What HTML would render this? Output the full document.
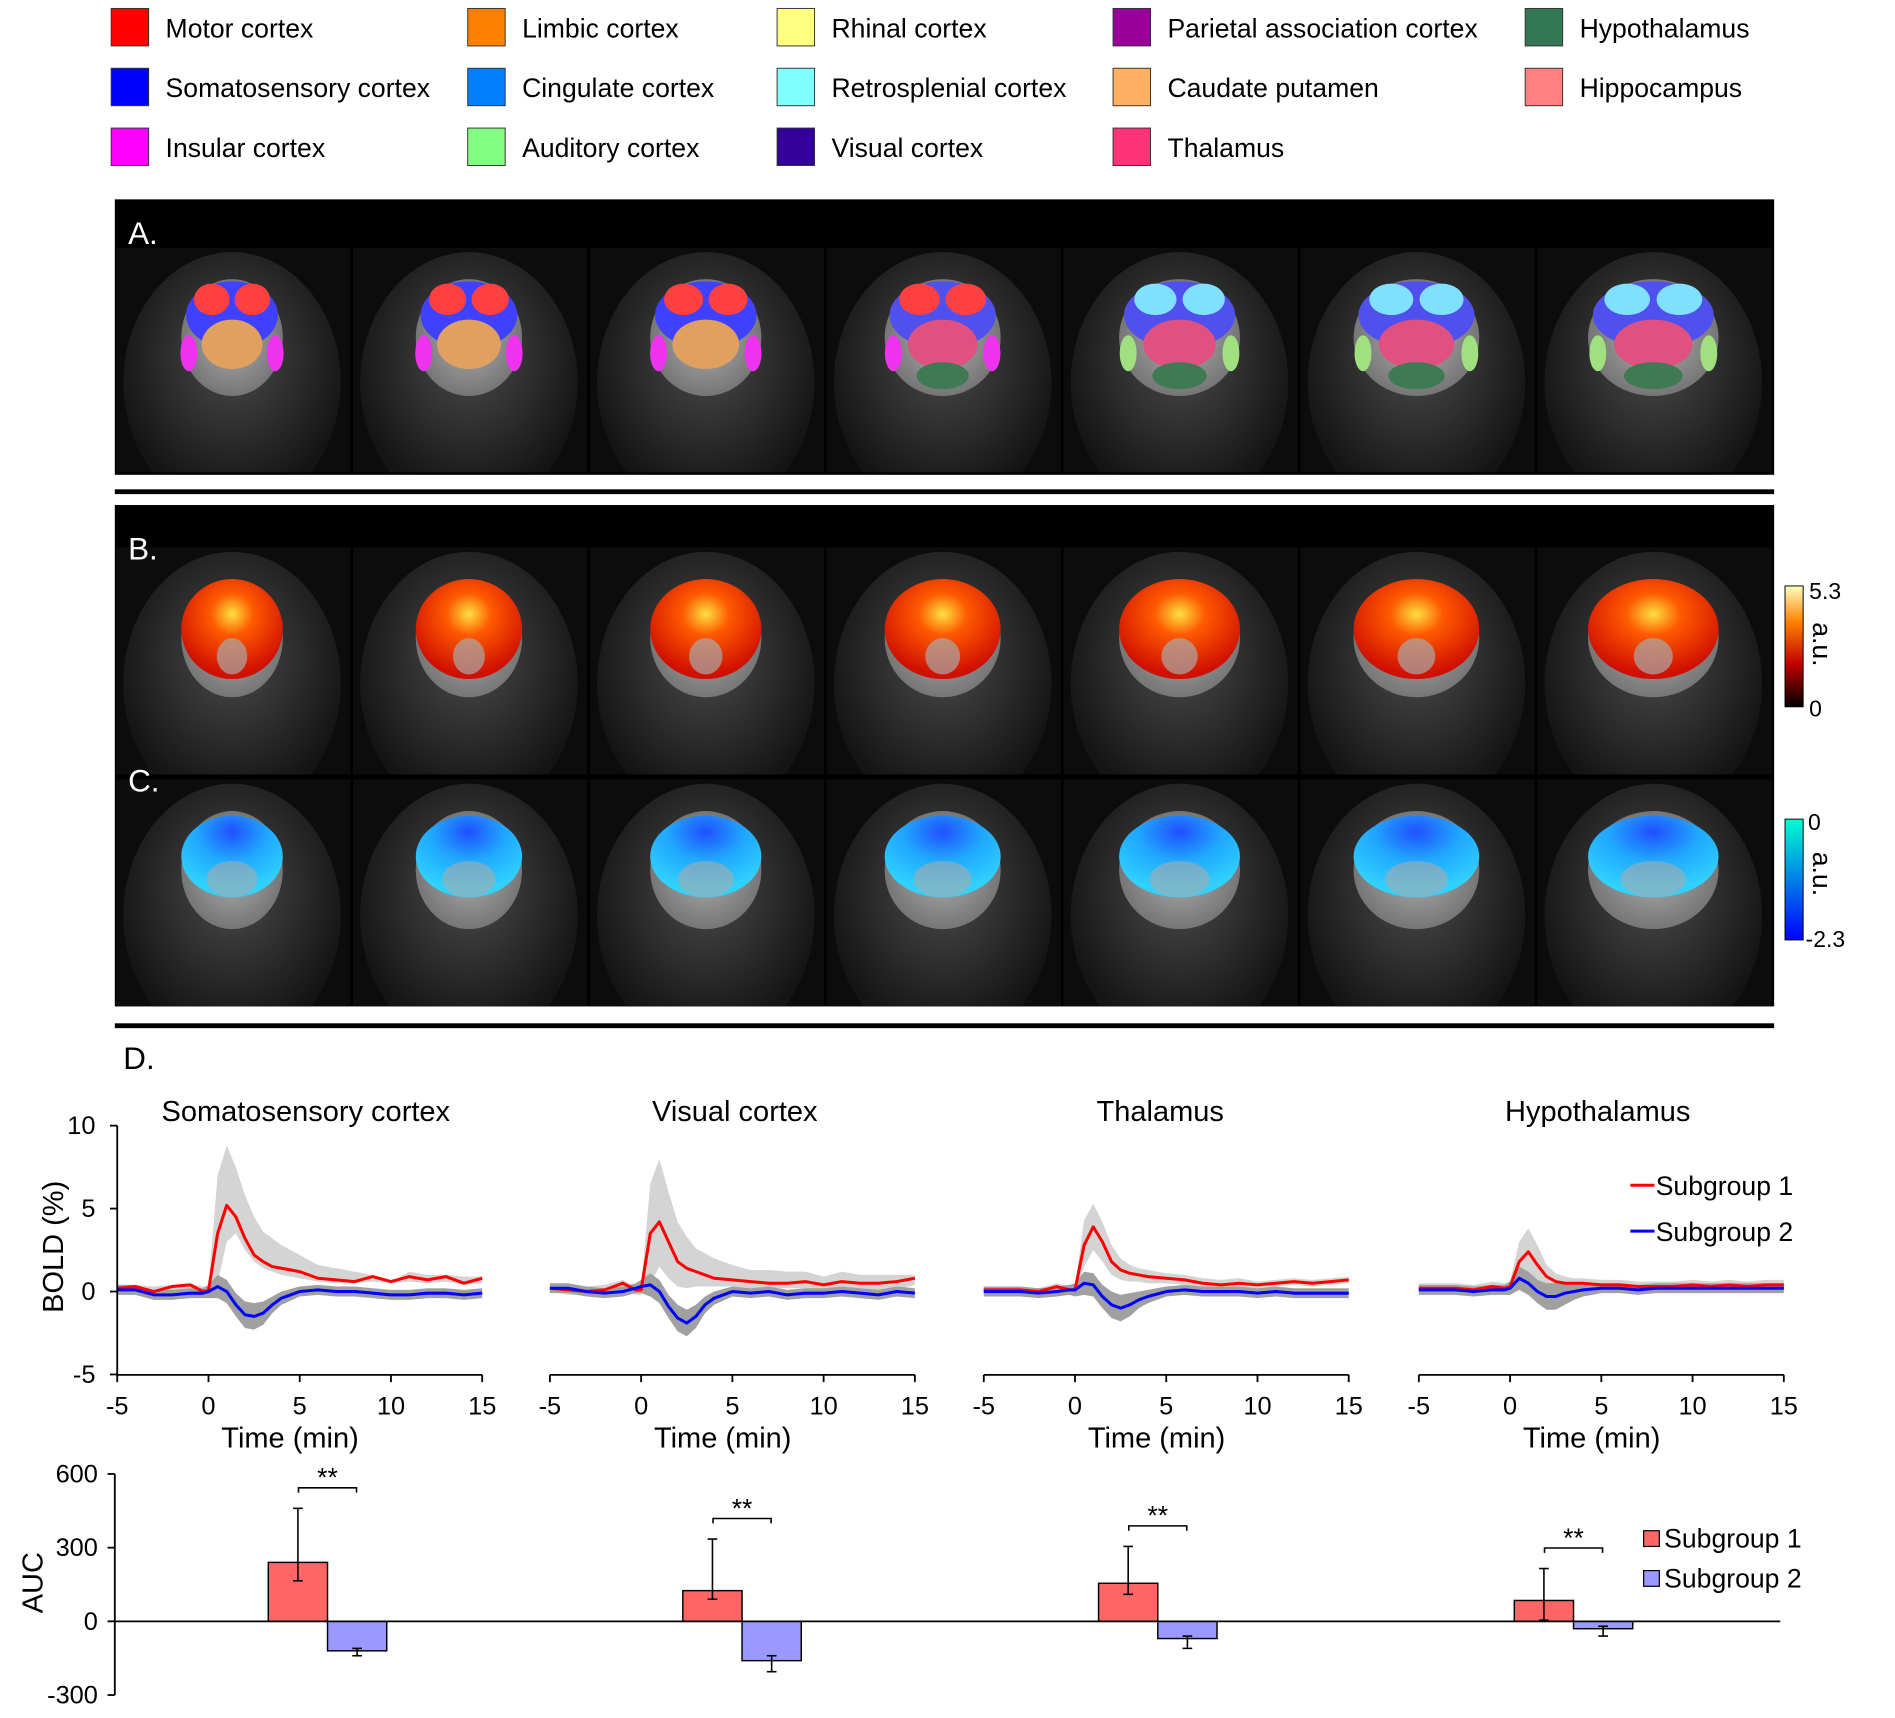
<!DOCTYPE html>
<html><head><meta charset="utf-8"><style>
html,body{margin:0;padding:0;background:#fff;}
svg{display:block;font-family:"Liberation Sans",Arial,sans-serif;}
</style></head><body>
<svg id="fig" width="1895" height="1718" viewBox="0 0 1568 1422" preserveAspectRatio="none" xmlns="http://www.w3.org/2000/svg">
<defs>
<radialGradient id="head" cx="50%" cy="40%" r="55%"><stop offset="0" stop-color="#4a4a4a"/><stop offset="0.6" stop-color="#2a2a2a"/><stop offset="1" stop-color="#141414"/></radialGradient>
<radialGradient id="brain" cx="50%" cy="50%" r="55%"><stop offset="0" stop-color="#b0b0b0"/><stop offset="1" stop-color="#707070"/></radialGradient>
<radialGradient id="hot" cx="50%" cy="35%" r="60%"><stop offset="0" stop-color="#ffe040"/><stop offset="0.35" stop-color="#ff5a00"/><stop offset="1" stop-color="#d01000"/></radialGradient>
<radialGradient id="cold" cx="50%" cy="20%" r="70%"><stop offset="0" stop-color="#2050ff"/><stop offset="0.5" stop-color="#20a8ff"/><stop offset="1" stop-color="#30d0ff"/></radialGradient>
<linearGradient id="cbHot" x1="0" y1="1" x2="0" y2="0"><stop offset="0" stop-color="#000"/><stop offset="0.35" stop-color="#c00000"/><stop offset="0.7" stop-color="#ff8000"/><stop offset="1" stop-color="#ffffc0"/></linearGradient>
<linearGradient id="cbCold" x1="0" y1="1" x2="0" y2="0"><stop offset="0" stop-color="#0000ff"/><stop offset="1" stop-color="#00ffd0"/></linearGradient>
</defs>
<g id="legend"></g>
<g id="panels"></g>
<g id="lines"></g>
<g id="bars"></g>
</svg>
<script>
// ---------- legend data ----------
const regionNames = ["Motor cortex","Limbic cortex","Rhinal cortex","Parietal association cortex","Hypothalamus","Somatosensory cortex","Cingulate cortex","Retrosplenial cortex","Caudate putamen","Hippocampus","Insular cortex","Auditory cortex","Visual cortex","Thalamus"];
const regionColors = ["#ff0000","#ff8000","#ffff80","#990099","#337755","#0000ff","#0080ff","#80ffff","#ffb060","#ff8080","#ff00ff","#80ff80","#330099","#ff3377"];
// ---------- timecourse data ----------
const chartTitles = ["Somatosensory cortex","Visual cortex","Thalamus","Hypothalamus"];
const timeMin = [-5,-4,-3,-2,-1,-0.3,0,0.5,1,1.5,2,2.5,3,3.5,4,5,6,7,8,9,10,11,12,13,14,15];
const xTicks = [-5,0,5,10,15];
const yTicks = [10,5,0,-5];
const red1 = [0.2,0.3,0,0.3,0.4,0,0.05,3.5,5.2,4.5,3.2,2.2,1.8,1.5,1.4,1.2,0.8,0.7,0.6,0.9,0.6,0.9,0.7,0.9,0.5,0.8];
const redHi1 = [0.4,0.4,0.3,0.4,0.5,0.3,0.3,7,8.8,7.5,5.8,4.5,3.6,3.2,2.8,2.2,1.6,1.4,1.2,1,0.6,1.2,1,1,0.9,0.9];
const redLo1 = [0,0,-0.2,0,0,-0.2,-0.1,0.5,3,3.5,2.5,1.8,1.4,1.2,1,0.8,0.6,0.5,0.5,0.6,0.5,0.6,0.5,0.6,0.4,0.5];
const blue1 = [0.1,0.1,-0.2,-0.2,-0.1,-0.1,0,0.3,0,-0.8,-1.4,-1.5,-1.3,-0.8,-0.4,0,0.1,0,0,-0.1,-0.2,-0.2,-0.1,-0.1,-0.2,-0.1];
const red2 = [0.2,0.1,0,0.1,0.5,0.1,0.1,3.5,4.2,3,1.8,1.4,1.2,1,0.8,0.7,0.6,0.5,0.5,0.6,0.4,0.6,0.5,0.5,0.6,0.8];
const redHi2 = [0.5,0.4,0.3,0.4,0.7,0.3,0.3,6.5,8,6,4.2,3.3,2.6,2.3,2,1.6,1.3,1.3,1.2,1.2,0.9,1.2,1,1,1,1];
const redLo2 = [0,-0.2,-0.2,-0.2,0.2,-0.2,-0.2,0.5,1.5,0.8,0.3,0.2,0.3,0.3,0.3,0.3,0.2,0.2,0.2,0.2,0,0.1,0.1,0,0.1,0.4];
const blue2 = [0.2,0.2,0,-0.1,0,0.2,0.3,0.4,0,-0.9,-1.6,-1.9,-1.5,-0.8,-0.4,0,-0.1,0,-0.2,-0.1,-0.1,0,-0.1,-0.2,0,-0.1];
const red3 = [0.1,0.1,0.1,0,0.3,0.1,0.1,2.8,3.9,3,1.8,1.3,1.1,1,0.9,0.8,0.7,0.5,0.4,0.5,0.4,0.5,0.6,0.5,0.6,0.7];
const redHi3 = [0.3,0.3,0.3,0.2,0.5,0.3,0.3,4.3,5.3,4.2,2.8,2,1.6,1.4,1.3,1.1,1,0.8,0.7,0.8,0.6,0.7,0.8,0.7,0.8,0.9];
const redLo3 = [-0.1,-0.1,-0.1,-0.2,0.1,-0.1,-0.1,1.5,2.5,1.8,1,0.7,0.6,0.6,0.5,0.5,0.4,0.3,0.2,0.3,0.2,0.3,0.4,0.3,0.4,0.5];
const blue3 = [0,0,0,-0.1,0,0.1,0.1,0.5,0.4,-0.3,-0.8,-1,-0.8,-0.5,-0.3,0,0.1,0,0,0,-0.1,0,-0.1,-0.1,-0.1,-0.1];
const red4 = [0.2,0.2,0.2,0.1,0.3,0.2,0.3,1.8,2.4,1.6,0.9,0.6,0.5,0.5,0.5,0.4,0.4,0.3,0.3,0.3,0.4,0.3,0.4,0.3,0.4,0.4];
const redHi4 = [0.5,0.5,0.5,0.4,0.6,0.5,0.6,3,3.8,2.8,1.6,1.1,0.9,0.8,0.8,0.7,0.7,0.6,0.6,0.6,0.7,0.6,0.7,0.6,0.7,0.7];
const redLo4 = [-0.1,-0.1,-0.1,-0.2,0,-0.1,0,0.8,1.2,0.6,0.3,0.2,0.2,0.2,0.2,0.1,0.1,0,0,0,0.1,0,0.1,0,0.1,0.1];
const blue4 = [0.1,0.1,0.1,0,0.1,0.1,0.2,0.8,0.5,0,-0.3,-0.3,-0.1,0,0.1,0.2,0.2,0.1,0.2,0.2,0.2,0.2,0.2,0.2,0.2,0.2];
const blueSd = [0.3,0.3,0.3,0.3,0.3,0.3,0.4,0.7,0.7,0.7,0.8,0.8,0.7,0.5,0.4,0.3,0.3,0.3,0.3,0.3,0.3,0.3,0.3,0.3,0.3,0.3];
// ---------- AUC data ----------
const aucRed = [240,125,155,85];
const aucRedHi = [460,335,305,215];
const aucRedLo = [165,90,110,5];
const aucBlue = [-120,-160,-70,-30];
const aucBlueHi = [-110,-140,-60,-20];
const aucBlueLo = [-140,-205,-110,-60];
const aucTicks = [600,300,0,-300];
const sigLabels = ["**","**","**","**"];

const NS="http://www.w3.org/2000/svg";
function mk(tag,attrs,parent){const e=document.createElementNS(NS,tag);for(const k in attrs)e.setAttribute(k,attrs[k]);parent.appendChild(e);return e;}
function txt(s,attrs,parent){const e=mk('text',attrs,parent);e.textContent=s;return e;}

// legend
const lg=document.getElementById('legend');
const colX=[92,387,643,921,1262];
regionNames.forEach((n,i)=>{
  const col=i%5,row=Math.floor(i/5);
  const x=colX[col],y=7+row*49.5;
  const sw=mk('rect',{x:x,y:y,width:31,height:31,fill:regionColors[i],stroke:'#333','stroke-width':0.8},lg);
  
  
  const t=txt(n,{x:x+45,y:y+24,'font-size':22,fill:'#000'},lg);
  
  
});

// brain panels
const pn=document.getElementById('panels');
const defs=document.querySelector('defs');
mk('rect',{x:95,y:165,width:1373,height:228,fill:'#000'},pn);
mk('rect',{x:95,y:405,width:1373,height:4,fill:'#000'},pn);
mk('rect',{x:95,y:418,width:1373,height:415,fill:'#000'},pn);
mk('rect',{x:95,y:847,width:1373,height:4,fill:'#000'},pn);
let clipN=0;
function slice(cx,top,h,i,kind){
  const id='c'+(clipN++);
  const cp=mk('clipPath',{id:id},defs);
  mk('rect',{x:cx-96,y:top,width:194,height:h},cp);
  const g=mk('g',{'clip-path':'url(#'+id+')'},pn);
  
  
  mk('rect',{x:cx-96,y:top,width:194,height:h,fill:'#0c0c0c'},g);
  mk('ellipse',{cx:cx,cy:top+h*0.6,rx:90,ry:h*0.58,fill:'url(#head)'},g);
  const bw=42+i*2, by=top+h*0.4;
  mk('ellipse',{cx:cx,cy:by,rx:bw,ry:h*0.26,fill:'url(#brain)'},g);
  if(kind==='A'){
    mk('ellipse',{cx:cx,cy:by-h*0.1,rx:bw-4,ry:h*0.15,fill:i<3?'#4040ff':'#5050ee'},g);
    mk('ellipse',{cx:cx-bw*0.4,cy:by-h*0.17,rx:bw*0.35,ry:h*0.07,fill:i<4?'#ff4040':'#80e0ff'},g);
    mk('ellipse',{cx:cx+bw*0.4,cy:by-h*0.17,rx:bw*0.35,ry:h*0.07,fill:i<4?'#ff4040':'#80e0ff'},g);
    mk('ellipse',{cx:cx,cy:by+h*0.03,rx:bw*0.6,ry:h*0.11,fill:i<3?'#e0a060':'#e05080'},g);
    if(i>=3) mk('ellipse',{cx:cx,cy:by+h*0.17,rx:bw*0.45,ry:h*0.06,fill:'#3f7a55'},g);
    mk('ellipse',{cx:cx-bw*0.85,cy:by+h*0.07,rx:7,ry:h*0.08,fill:i<4?'#ee33ee':'#a0e080'},g);
    mk('ellipse',{cx:cx+bw*0.85,cy:by+h*0.07,rx:7,ry:h*0.08,fill:i<4?'#ee33ee':'#a0e080'},g);
  } else if(kind==='B'){
    mk('ellipse',{cx:cx,cy:by-h*0.04,rx:bw,ry:h*0.22,fill:'url(#hot)'},g);
    mk('ellipse',{cx:cx,cy:by+h*0.08,rx:bw*0.3,ry:h*0.08,fill:'#aaa',opacity:0.7},g);
  } else {
    mk('ellipse',{cx:cx,cy:by-h*0.06,rx:bw,ry:h*0.18,fill:'url(#cold)'},g);
    mk('ellipse',{cx:cx,cy:by+h*0.04,rx:bw*0.5,ry:h*0.08,fill:'#aaa',opacity:0.6},g);
  }
}
for(let i=0;i<7;i++){const cx=192+i*196;slice(cx,205,186,i,'A');slice(cx,453,188,i,'B');slice(cx,645,188,i,'C');}
txt('A.',{x:106,y:202,'font-size':26,fill:'#fff'},pn);
txt('B.',{x:106,y:463,'font-size':26,fill:'#fff'},pn);
txt('C.',{x:106,y:655,'font-size':26,fill:'#fff'},pn);
mk('rect',{x:1477,y:485,width:15,height:100,fill:'url(#cbHot)',stroke:'#000','stroke-width':0.8},pn);
mk('rect',{x:1477,y:678,width:15,height:100,fill:'url(#cbCold)',stroke:'#000','stroke-width':0.8},pn);
txt('5.3',{x:1497,y:496,'font-size':19},pn);txt('0',{x:1497,y:593,'font-size':19},pn);
txt('0',{x:1496,y:687,'font-size':19},pn);txt('-2.3',{x:1494,y:784,'font-size':19},pn);
txt('a.u.',{x:0,y:0,'font-size':22,transform:'translate(1500,515) rotate(90)'},pn);
txt('a.u.',{x:0,y:0,'font-size':22,transform:'translate(1500,705) rotate(90)'},pn);

// line charts
const ln=document.getElementById('lines');
txt('D.',{x:102,y:885,'font-size':26},ln);
const xStarts=[97,455,814,1174];
const reds=[red1,red2,red3,red4],redHis=[redHi1,redHi2,redHi3,redHi4],redLos=[redLo1,redLo2,redLo3,redLo4],blues=[blue1,blue2,blue3,blue4];
const titleX=[253,608,960,1322];
txt('BOLD (%)',{x:0,y:0,'font-size':24,'text-anchor':'middle',transform:'translate(52,1032) rotate(-90)'},ln);
chartTitles.forEach((tt,c)=>{
  const x0=xStarts[c],W=302;
  const X=t=>x0+(t+5)/20*W, Y=v=>1069-v*13.73;
  const g=mk('g',{},ln);
  
  
  const ti=txt(tt,{x:titleX[c],y:928,'font-size':24,'text-anchor':'middle'},g);
  
  
  let d='M'+timeMin.map((t,i)=>X(t)+','+Y(redHis[c][i])).join('L')+'L'+timeMin.slice().reverse().map((t,k)=>{const i=timeMin.length-1-k;return X(t)+','+Y(redLos[c][i]);}).join('L')+'Z';
  const b1=mk('path',{d:d,fill:'#d4d4d4'},g);
  
  
  d='M'+timeMin.map((t,i)=>X(t)+','+Y(blues[c][i]+blueSd[i])).join('L')+'L'+timeMin.slice().reverse().map((t,k)=>{const i=timeMin.length-1-k;return X(t)+','+Y(blues[c][i]-blueSd[i]);}).join('L')+'Z';
  const b2=mk('path',{d:d,fill:'#a0a0a0'},g);
  
  
  const l1=mk('polyline',{points:timeMin.map((t,i)=>X(t)+','+Y(reds[c][i])).join(' '),fill:'none',stroke:'#ff0000','stroke-width':2.5,'stroke-linejoin':'round'},g);
  
  
  const l2=mk('polyline',{points:timeMin.map((t,i)=>X(t)+','+Y(blues[c][i])).join(' '),fill:'none',stroke:'#0000ff','stroke-width':2.5,'stroke-linejoin':'round'},g);
  
  
  mk('line',{x1:X(-5),y1:1138,x2:X(15),y2:1138,stroke:'#000','stroke-width':1.5},g);
  xTicks.forEach(t=>{mk('line',{x1:X(t),y1:1138,x2:X(t),y2:1144,stroke:'#000','stroke-width':1.5},g);
    txt(String(t),{x:X(t),y:1171,'font-size':21,'text-anchor':'middle'},g);});
  txt('Time (min)',{x:x0+143,y:1198,'font-size':24,'text-anchor':'middle'},g);
  if(c===0){
    mk('line',{x1:x0,y1:Y(10),x2:x0,y2:1138,stroke:'#000','stroke-width':1.5},g);
    yTicks.forEach(v=>{mk('line',{x1:x0-6,y1:Y(v),x2:x0,y2:Y(v),stroke:'#000','stroke-width':1.5},g);
      txt(String(v),{x:x0-18,y:Y(v)+7,'font-size':21,'text-anchor':'end'},g);});
  }
});
mk('line',{x1:1349,y1:981,x2:1369,y2:981,stroke:'#ff0000','stroke-width':2.5},ln);
txt('Subgroup 1',{x:1370,y:989,'font-size':22},ln);
mk('line',{x1:1349,y1:1019,x2:1369,y2:1019,stroke:'#0000ff','stroke-width':2.5},ln);
txt('Subgroup 2',{x:1370,y:1027,'font-size':22},ln);

// bar chart
const br=document.getElementById('bars');
const YB=v=>1342-v*122/600;
const groupX=[222,565,909,1253];
txt('AUC',{x:0,y:0,'font-size':24,'text-anchor':'middle',transform:'translate(35,1310) rotate(-90)'},br);
mk('line',{x1:95,y1:YB(600),x2:95,y2:YB(-300),stroke:'#000','stroke-width':1.5},br);
aucTicks.forEach(v=>{mk('line',{x1:89,y1:YB(v),x2:95,y2:YB(v),stroke:'#000','stroke-width':1.5},br);
  txt(String(v),{x:81,y:YB(v)+7,'font-size':21,'text-anchor':'end'},br);});
groupX.forEach((gx,i)=>{
  const r=mk('rect',{x:gx,y:Math.min(YB(aucRed[i]),YB(0)),width:49,height:Math.abs(YB(aucRed[i])-YB(0)),fill:'#ff6666',stroke:'#000','stroke-width':1.2},br);
  
  
  const b=mk('rect',{x:gx+49,y:Math.min(YB(aucBlue[i]),YB(0)),width:49,height:Math.abs(YB(aucBlue[i])-YB(0)),fill:'#9999ff',stroke:'#000','stroke-width':1.2},br);
  
  
  [[gx+24.5,aucRedHi[i],aucRedLo[i]],[gx+73.5,aucBlueHi[i],aucBlueLo[i]]].forEach(e=>{
    mk('line',{x1:e[0],y1:YB(e[1]),x2:e[0],y2:YB(e[2]),stroke:'#000','stroke-width':1.3},br);
    mk('line',{x1:e[0]-4,y1:YB(e[1]),x2:e[0]+4,y2:YB(e[1]),stroke:'#000','stroke-width':1.3},br);
    mk('line',{x1:e[0]-4,y1:YB(e[2]),x2:e[0]+4,y2:YB(e[2]),stroke:'#000','stroke-width':1.3},br);
  });
  const sy=YB(aucRedHi[i])-17;
  mk('path',{d:`M${gx+25},${sy+4}V${sy}H${gx+73}V${sy+4}`,fill:'none',stroke:'#000','stroke-width':1.3},br);
  txt(sigLabels[i],{x:gx+49,y:sy-1,'font-size':22,'text-anchor':'middle'},br);
});
mk('line',{x1:95,y1:YB(0),x2:1473,y2:YB(0),stroke:'#000','stroke-width':1.5},br);
mk('rect',{x:1360,y:1267,width:13,height:13,fill:'#ff6666',stroke:'#000','stroke-width':1},br);
txt('Subgroup 1',{x:1377,y:1281,'font-size':22},br);
mk('rect',{x:1360,y:1300,width:13,height:13,fill:'#9999ff',stroke:'#000','stroke-width':1},br);
txt('Subgroup 2',{x:1377,y:1314,'font-size':22},br);
</script>
</body></html>
